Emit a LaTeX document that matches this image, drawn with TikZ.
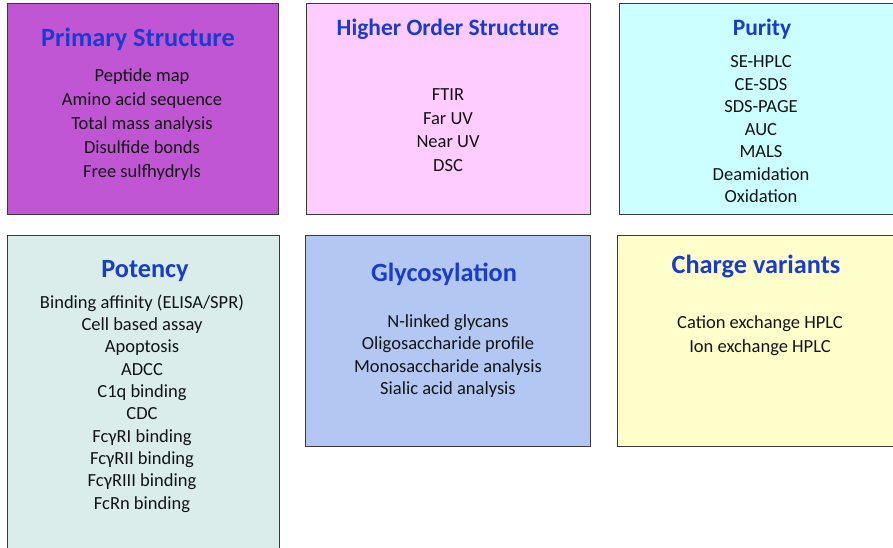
\documentclass[tikz,border=0pt]{standalone}
\usepackage{fontspec}
\setmainfont{Carlito}
\definecolor{ttl}{HTML}{1A3CCC}
\definecolor{edge}{HTML}{3A3A3A}
\definecolor{cPrim}{HTML}{C056D4}
\definecolor{cHigh}{HTML}{FFCCFF}
\definecolor{cPur}{HTML}{CCFFFF}
\definecolor{cPot}{HTML}{DAEDEA}
\definecolor{cGly}{HTML}{B3C7F3}
\definecolor{cChg}{HTML}{FFFFCC}
\begin{document}
\begin{tikzpicture}[x=1pt,y=-1pt,
  panel/.style={draw=edge, line width=0.9pt},
  head/.style={text=ttl, font=\bfseries\fontsize{26.3}{30}\selectfont, inner sep=0pt},
  headsm/.style={text=ttl, font=\bfseries\fontsize{23.5}{28}\selectfont, inner sep=0pt},
  items/.style={align=center, inner sep=0pt, text=black!92, font=\fontsize{18.5}{#1}\selectfont},
  items/.default=24]
\useasboundingbox (0,0) rectangle (893,547);
\begin{scope}
\clip (0,0) rectangle (893,547);
% panels
\draw[panel, fill=cPrim] (7,3) rectangle (278,214) coordinate (primBox);
\draw[panel, fill=cHigh] (306,3) rectangle (590,214) coordinate (highBox);
\draw[panel, fill=cPur]  (619,3) rectangle (910,214) coordinate (purBox);
\draw[panel, fill=cPot]  (7,235) rectangle (279,560) coordinate (potBox);
\draw[panel, fill=cGly]  (305,235) rectangle (590,446) coordinate (glyBox);
\draw[panel, fill=cChg]  (617,235) rectangle (910,446) coordinate (chgBox);
\end{scope}
% Primary structure
\node[head] (primT) at (138,39) {Primary Structure};
\node[items] (primL) at (142,125) {Peptide map\\Amino acid sequence\\Total mass analysis\\Disulfide bonds\\Free sulfhydryls};
% Higher order structure
\node[headsm] (highT) at (448,29) {Higher Order Structure};
\node[items=23.7] (highL) at (448,130) {FTIR\\Far UV\\Near UV\\DSC};
% Purity
\node[headsm] (purT) at (762,29) {Purity};
\node[items=22.5] (purL) at (761,129.5) {SE-HPLC\\CE-SDS\\SDS-PAGE\\AUC\\MALS\\Deamidation\\Oxidation};
% Potency
\node[head] (potT) at (145,271.5) {Potency};
\node[items=22.3] (potL) at (142,403.5) {Binding affinity (ELISA/SPR)\\Cell based assay\\Apoptosis\\ADCC\\C1q binding\\CDC\\Fcγ{}RI binding\\Fcγ{}RII binding\\Fcγ{}RIII binding\\FcRn binding};
% Glycosylation
\node[head] (glyT) at (444,274) {Glycosylation};
\node[items=22.4] (glyL) at (448,356) {N-linked glycans\\Oligosaccharide profile\\Monosaccharide analysis\\Sialic acid analysis};
% Charge variants
\node[head] (chgT) at (756,266) {Charge variants};
\node[items] (chgL) at (760,336) {Cation exchange HPLC\\Ion exchange HPLC};
\end{tikzpicture}
\end{document}
